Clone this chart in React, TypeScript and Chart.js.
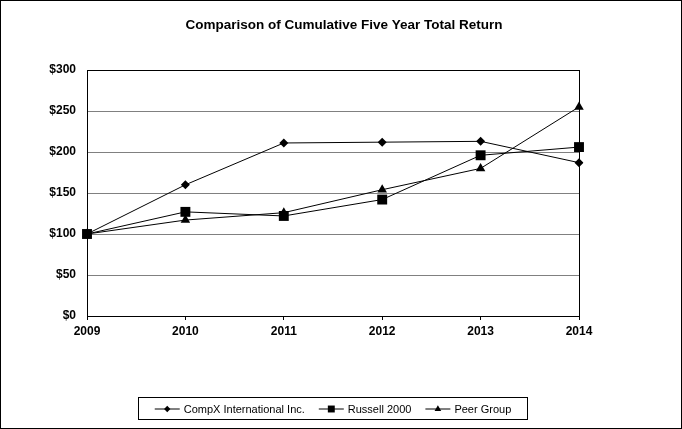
import { useEffect, useRef } from 'react';
import { Chart, registerables } from 'chart.js';
import { drawPoint } from 'chart.js/helpers';

Chart.register(...registerables);

const years = ['2009', '2010', '2011', '2012', '2013', '2014'];
const compx = [100, 160, 211, 212, 213, 187];
const russell = [100, 127, 122, 142, 196, 206];
const peer = [100, 117, 126, 154, 180, 255];

const seriesNames = ['CompX International Inc.', 'Russell 2000', 'Peer Group'];
const title = 'Comparison of Cumulative Five Year Total Return';

const FONT = '"Liberation Sans", Arial, sans-serif';

// draws the border, the title, the plot frame and the boxed legend
const framePlugin = {
  id: 'frame',
  afterDraw(chart) {
    const { ctx, chartArea, width, height } = chart;
    ctx.save();
    ctx.strokeStyle = '#000';
    ctx.lineWidth = 1;
    ctx.strokeRect(0.5, 0.5, width - 1, height - 1);
    ctx.strokeRect(
      Math.round(chartArea.left) + 0.5,
      Math.round(chartArea.top) + 0.5,
      Math.round(chartArea.right - chartArea.left),
      Math.round(chartArea.bottom - chartArea.top)
    );

    ctx.fillStyle = '#000';
    ctx.font = `bold 13.5px ${FONT}`;
    ctx.textAlign = 'center';
    ctx.textBaseline = 'middle';
    ctx.fillText(title, width / 2 + 3, 25);

    // legend
    const box = { x: 138.5, y: 397.5, w: 389, h: 22 };
    ctx.strokeRect(box.x, box.y, box.w, box.h);
    ctx.font = `11px ${FONT}`;
    ctx.textAlign = 'left';
    const lineLen = 25;
    const gap = 4;
    const between = 14;
    const widths = chart.data.datasets.map((ds) => ctx.measureText(ds.label).width);
    const total = widths.reduce((a, w) => a + lineLen + gap + w, 0) + between * (widths.length - 1);
    let lx = box.x + (box.w - total) / 2;
    const ly = box.y + box.h / 2;
    chart.data.datasets.forEach((ds, i) => {
      ctx.beginPath();
      ctx.moveTo(lx, ly + 0.5);
      ctx.lineTo(lx + lineLen, ly + 0.5);
      ctx.stroke();
      ctx.fillStyle = '#000';
      drawPoint(ctx, { pointStyle: ds.pointStyle, radius: ds.pointRadius * 0.7, borderWidth: 0, rotation: 0 }, lx + lineLen / 2, ly + 0.5);
      ctx.fillStyle = '#000';
      ctx.fillText(ds.label, lx + lineLen + gap, ly + 1);
      lx += lineLen + gap + widths[i] + between;
    });
    ctx.restore();
  },
};

export default function App() {
  const chartRef = useRef(null);

  useEffect(() => {
    document.body.style.margin = '0';
    const ctx = chartRef.current.getContext('2d');
    const mk = (label, data, style, radius) => ({
      label,
      data,
      borderColor: '#000',
      borderWidth: 1,
      backgroundColor: '#000',
      pointStyle: style,
      pointRadius: radius,
      pointBorderWidth: 0,
      pointBackgroundColor: '#000',
      tension: 0,
    });

    const chart = new Chart(ctx, {
      type: 'line',
      data: {
        labels: years,
        datasets: [
          mk(seriesNames[0], compx, 'rectRot', 4.5),
          mk(seriesNames[1], russell, 'rect', 7),
          mk(seriesNames[2], peer, 'triangle', 5.5),
        ],
      },
      plugins: [framePlugin],
      options: {
        animation: false,
        responsive: false,
        devicePixelRatio: 1,
        layout: { padding: { top: 70, right: 103, left: 0, bottom: 0 } },
        plugins: {
          legend: { display: false },
          title: { display: false },
          tooltip: { enabled: false },
        },
        scales: {
          x: {
            offset: false,
            afterFit: (scale) => {
              scale.height = 113;
            },
            border: { display: true, color: '#000' },
            grid: { drawOnChartArea: false, drawTicks: true, tickLength: 4, color: '#000' },
            ticks: {
              color: '#000',
              padding: 4,
              maxRotation: 0,
              font: { family: FONT, size: 12, weight: 'bold' },
            },
          },
          y: {
            min: 0,
            max: 300,
            afterFit: (scale) => {
              scale.width = 87;
            },
            border: { display: true, color: '#000' },
            grid: { color: '#808080', drawTicks: false },
            ticks: {
              stepSize: 50,
              color: '#000',
              padding: 11,
              font: { family: FONT, size: 12, weight: 'bold' },
              callback: (v) => `$${v}`,
            },
          },
        },
      },
    });

    return () => chart.destroy();
  }, []);

  return <canvas ref={chartRef} width={682} height={429} style={{ display: 'block' }} />;
}
